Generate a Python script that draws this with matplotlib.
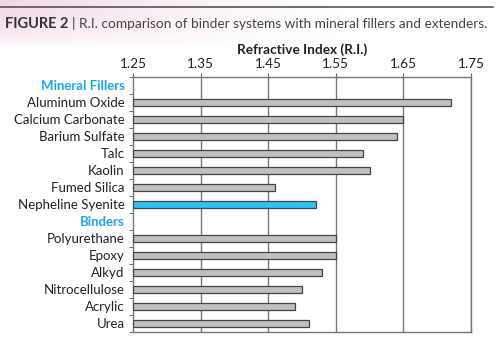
import numpy as np
import matplotlib.pyplot as plt
from matplotlib.ticker import FixedLocator

fillers = ['Aluminum Oxide', 'Calcium Carbonate', 'Barium Sulfate', 'Talc',
           'Kaolin', 'Fumed Silica', 'Nepheline Syenite']
filler_ri = [1.72, 1.65, 1.64, 1.59, 1.60, 1.46, 1.52]
binders = ['Polyurethane', 'Epoxy', 'Alkyd', 'Nitrocellulose', 'Acrylic', 'Urea']
binder_ri = [1.55, 1.55, 1.53, 1.50, 1.49, 1.51]
xticks = [1.25, 1.35, 1.45, 1.55, 1.65, 1.75]

plt.rcParams['font.family'] = ['Lato', 'DejaVu Sans']

labels = ['Mineral Fillers'] + fillers + ['Binders'] + binders
values = [None] + filler_ri + [None] + binder_ri
n = len(labels)
ypos = np.arange(n)

fig = plt.figure(figsize=(5, 3.4), dpi=100)

# faint pink wash behind the caption, fading out to the right and downward
bg = fig.add_axes([0, 0.86, 0.7, 0.14], zorder=-5)
gx = np.clip(1 - np.linspace(0, 1, 350), 0, 1)[None, :] ** 1.3
gy = np.sin(np.linspace(0, np.pi / 2, 50))[:, None] ** 0.7
rgba = np.zeros((50, 350, 4))
rgba[..., 0] = 0.93
rgba[..., 1] = 0.80
rgba[..., 2] = 0.88
rgba[..., 3] = 0.75 * gx * gy
bg.imshow(rgba, aspect='auto', extent=[0, 1, 0, 1], origin='lower')
bg.axis('off')

fig.add_artist(plt.Line2D([0, 0.985], [0.979, 0.979], color='#555555', lw=1.2))
fig.text(0.010, 0.930, 'FIGURE 2', fontsize=10.5, fontweight='bold',
         color='#333333', va='center')
fig.text(0.145, 0.930, '| R.I. comparison of binder systems with mineral fillers and extenders.',
         fontsize=9.8, color='#444444', va='center')

ax = fig.add_axes([0.266, 0.024, 0.676, 0.75])
for i, (lab, v) in enumerate(zip(labels, values)):
    if v is None:
        continue
    col = '#2cc3f2' if lab == 'Nepheline Syenite' else '#c0c0c0'
    ax.barh(i, v - xticks[0], left=xticks[0], height=0.4, color=col,
            edgecolor='#444444', linewidth=0.9, zorder=3)

ax.set_xlim(1.25, 1.75)
ax.set_ylim(n - 0.5, -0.5)
ax.xaxis.tick_top()
ax.set_xticks(xticks)
ax.set_xticklabels([f'{t:.2f}' for t in xticks], fontsize=9.8, color='#222222')
ax.tick_params(axis='x', length=3, color='#666666', pad=2)
ax.xaxis.set_label_position('top')
ax.set_xlabel('Refractive Index (R.I.)', fontsize=9.8, fontweight='bold',
              color='#222222', labelpad=3)
for t in xticks[1:]:
    ax.axvline(t, color='#777777', lw=1.0, zorder=1)

ax.set_yticks(ypos)
ax.set_yticklabels(labels, fontsize=9.5, color='#222222')
ax.tick_params(axis='y', which='major', length=0, pad=6)
ax.yaxis.set_minor_locator(FixedLocator(np.arange(n + 1) - 0.5))
ax.tick_params(axis='y', which='minor', length=3, color='#555555')
for tl in ax.get_yticklabels():
    if tl.get_text() in ('Mineral Fillers', 'Binders'):
        tl.set_color('#1aa6e6')
        tl.set_fontweight('bold')

for s in ['left', 'bottom', 'right', 'top']:
    ax.spines[s].set_color('#777777')
    ax.spines[s].set_linewidth(1.0)

fig.savefig('out.png', dpi=100)
